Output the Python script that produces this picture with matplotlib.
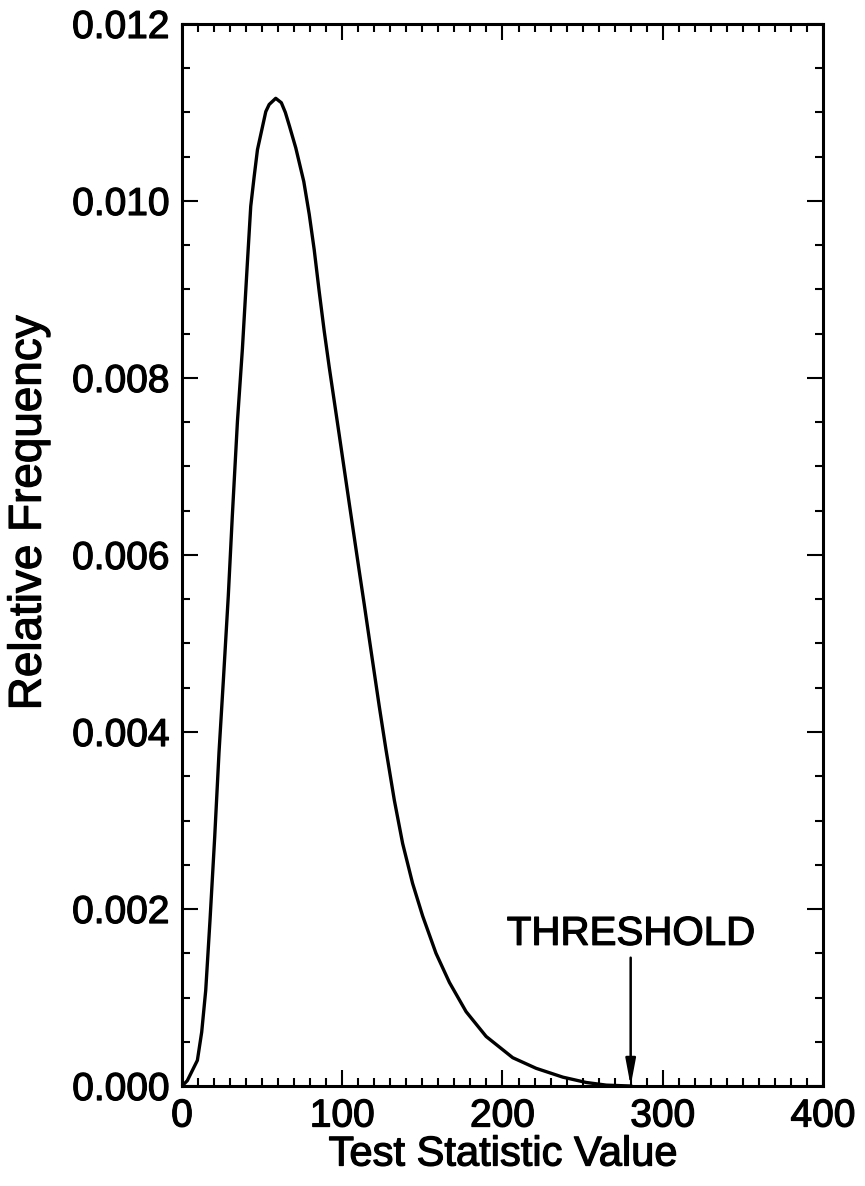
import matplotlib.pyplot as plt
import matplotlib.patheffects as pe
from matplotlib.ticker import MultipleLocator

plt.rcParams['font.family'] = ['Liberation Sans', 'DejaVu Sans']

# curve
x = [0, 3.3, 9.6, 12.3, 14.8, 17.5, 20.4, 23.1, 25.8, 28.9, 31.4, 34.6, 37.7,
     40.8, 42.9, 45, 47.1, 52.3, 54.4, 58.5, 62, 64.5, 67, 71, 76, 79.4, 82.5,
     85.6, 88.75, 91.9, 95, 98.1, 101.25, 104.4, 107.5, 110.6, 113.75, 116.9,
     120, 123.1, 127.3, 132.5, 137.7, 143.9, 150.2, 158.5, 166.9, 177.3,
     189.8, 206.4, 221, 237.7, 252.3, 264.8, 280]
freq = [0, 0.00006, 0.00029, 0.00061, 0.00108, 0.00188, 0.00281, 0.00377,
        0.00458, 0.00554, 0.00644, 0.00751, 0.00833, 0.0093, 0.00994, 0.01027,
        0.01058, 0.01101, 0.01109, 0.01116, 0.01111, 0.01100, 0.01085, 0.0106,
        0.01022, 0.00985, 0.00945, 0.00898, 0.00853, 0.00812, 0.00774, 0.00736,
        0.00697, 0.00658, 0.0062, 0.00582, 0.00544, 0.00505, 0.00467, 0.00429,
        0.0038, 0.00323, 0.00274, 0.00229, 0.00192, 0.0015, 0.00117, 0.00084,
        0.00056, 0.00032, 0.0002, 0.0001, 0.00004, 0.00001, 0]
threshold = 280
label_y = 0.00172
arrow_top = 0.00145

heavy = [pe.withStroke(linewidth=0.9, foreground='black')]

fig = plt.figure(figsize=(8.65, 11.86), dpi=100)
ax = fig.add_axes([0.2104, 0.0843, 0.741, 0.8955])
ax.plot(x, freq, color='black', lw=2.4)

ax.set_xlim(0, 400)
ax.set_ylim(0, 0.012)
ax.xaxis.set_major_locator(MultipleLocator(100))
ax.xaxis.set_minor_locator(MultipleLocator(10))
ax.yaxis.set_major_locator(MultipleLocator(0.002))
ax.yaxis.set_minor_locator(MultipleLocator(0.0005))
ax.yaxis.set_major_formatter(lambda v, p: f'{v:.3f}')
ax.tick_params(which='both', direction='in', top=True, right=True,
               width=1.5, labelsize=28, pad=9)
ax.tick_params(which='major', length=11.5)
ax.tick_params(which='minor', length=5.8)
for s in ax.spines.values():
    s.set_linewidth(2.2)
for lab in ax.get_xticklabels() + ax.get_yticklabels():
    lab.set_path_effects(heavy)

ax.set_xlabel('Test Statistic Value', fontsize=30, labelpad=0,
              path_effects=heavy)
ax.set_ylabel('Relative Frequency', fontsize=33, path_effects=heavy)
ax.yaxis.set_label_coords(-0.205, 0.54)

ax.text(threshold, label_y, 'THRESHOLD', fontsize=29, ha='center',
        va='center', path_effects=heavy)
ax.annotate('', xy=(threshold, 0), xytext=(threshold, arrow_top),
            arrowprops=dict(arrowstyle='-|>,head_length=1.6,head_width=0.3',
                            color='black', lw=1.8, shrinkA=0, shrinkB=0))

fig.savefig('out.png', dpi=100)
